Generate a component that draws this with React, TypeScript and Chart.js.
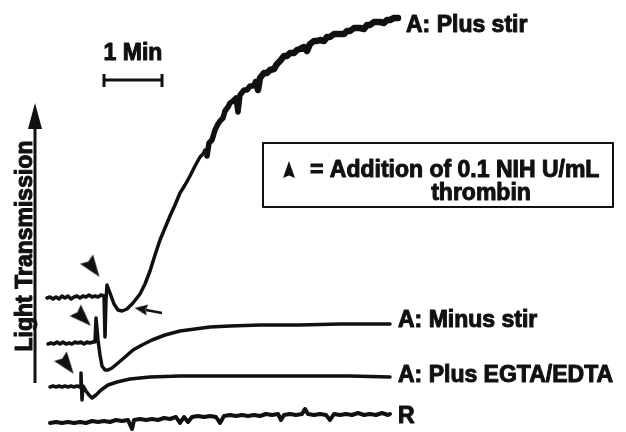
import React, { useEffect, useRef } from "react";
import { Chart, registerables } from "chart.js";

Chart.register(...registerables);

// time in seconds (1 min scale bar = 60 s); light transmission in arbitrary units
const plusStirX = [47, 50, 53, 56, 59, 62, 65, 68, 71, 74, 77, 80, 83, 86, 89, 92, 95, 98, 101, 104, 105, 106, 107, 110, 114, 118, 122, 127, 133, 140, 145, 150, 155, 160, 165, 170, 175, 180, 185, 190, 195, 200, 203, 205, 207, 209, 212, 215, 218, 220, 223, 225, 228, 230, 233, 236, 238, 240, 244, 247, 250, 253, 256, 258, 260, 264, 267, 270, 274, 277, 280, 284, 287, 290, 294, 297, 300, 304, 307, 310, 314, 317, 320, 324, 327, 330, 334, 337, 340, 344, 347, 350, 354, 357, 360, 364, 367, 370, 374, 377, 380, 384, 387, 390, 394, 398];
const plusStirT = [134, 135, 133, 135, 133, 136, 134, 136, 133, 135, 136, 134, 136, 135, 137, 135, 136, 135, 137, 136, 95, 132, 147, 139, 128, 122, 121, 123, 129, 138, 148, 161, 177, 192, 204, 216, 227, 239, 247, 256, 266, 275, 278, 282, 276, 289, 292, 302, 308, 311, 314, 321, 325, 329, 331, 334, 320, 337, 342, 342, 346, 346, 350, 342, 354, 359, 359, 362, 363, 368, 371, 376, 376, 379, 379, 382, 383, 385, 381, 388, 391, 391, 392, 391, 395, 395, 398, 398, 398, 398, 401, 401, 404, 404, 404, 403, 407, 407, 410, 410, 410, 409, 412, 412, 414, 414];

const minusStirX = [48, 51, 54, 57, 60, 63, 66, 69, 72, 75, 78, 81, 84, 87, 90, 93, 95, 96, 98, 100, 102, 105, 108, 112, 118, 125, 133, 142, 152, 165, 180, 195, 210, 230, 260, 300, 340, 370, 390];
const minusStirT = [88, 89, 88, 90, 88, 90, 88, 89, 88, 90, 89, 90, 88, 90, 89, 90, 90, 114, 92, 77, 66, 62, 62, 64, 69, 75, 82, 87, 92, 97, 101, 103, 105, 106, 107, 107, 108, 108, 108];

const egtaX = [50, 53, 56, 59, 62, 65, 68, 71, 74, 77, 80, 81, 82, 83, 86, 89, 92, 96, 101, 108, 117, 130, 150, 180, 230, 300, 350, 390];
const egtaT = [45, 46, 45, 46, 45, 46, 45, 46, 45, 46, 45, 59, 32, 46, 41, 37, 34, 37, 42, 47, 50, 53, 55, 56, 56, 56, 56, 55];

const refX = [50, 56, 62, 68, 74, 80, 86, 92, 98, 104, 110, 116, 122, 128, 132, 134, 140, 146, 152, 158, 164, 170, 176, 180, 184, 188, 192, 198, 204, 210, 216, 220, 224, 230, 236, 242, 248, 254, 260, 266, 272, 278, 281, 284, 290, 296, 302, 305, 308, 314, 320, 326, 330, 334, 340, 346, 352, 358, 364, 370, 376, 382, 388, 390];
const refT = [9, 10, 9, 10, 9, 10, 9, 11, 10, 11, 10, 12, 11, 12, 3, 12, 13, 12, 13, 12, 14, 13, 15, 9, 15, 10, 15, 16, 15, 16, 15, 9, 16, 17, 16, 17, 16, 17, 16, 18, 17, 18, 12, 17, 18, 17, 18, 23, 18, 17, 18, 17, 12, 18, 17, 18, 17, 19, 17, 18, 17, 19, 17, 18];

const seriesLabels = ["A: Plus stir", "A: Minus stir", "A: Plus EGTA/EDTA", "R"];

// thrombin addition markers: [time, level, direction in degrees]
const markerX = [93, 83, 67];
const markerT = [164, 114, 67];
const markerDir = [144, 135, 143];

// small arrow pointing at the Plus stir trough
const pointerX = [162, 146];
const pointerT = [119, 122];

const legendText = ["= Addition of 0.1 NIH U/mL", "thrombin"];
const scaleBarText = "1 Min";
const axisTitle = "Light Transmission";

function makeArrowHead(w: number, h: number): HTMLCanvasElement {
  const c = document.createElement("canvas");
  c.width = w;
  c.height = h;
  const g = c.getContext("2d")!;
  g.fillStyle = "#111";
  g.beginPath();
  g.moveTo(w / 2, 0);
  g.lineTo(w, h);
  g.lineTo(w / 2, h * 0.86);
  g.lineTo(0, h);
  g.closePath();
  g.fill();
  return c;
}

const FONT = '700 23px "Liberation Sans", Arial, Helvetica, sans-serif';
const INK = "#111";

export default function App() {
  const ref = useRef<HTMLCanvasElement | null>(null);

  useEffect(() => {
    if (!ref.current) return;
    const bigHead = makeArrowHead(16, 22);
    const smallHead = makeArrowHead(11, 13);
    const keyHead = makeArrowHead(12, 17);

    const toPts = (xs: number[], ys: number[]) => xs.map((x, i) => ({ x, y: ys[i] }));
    const trace = (xs: number[], ys: number[], thick = 3.5) => ({
      data: toPts(xs, ys),
      borderColor: INK,
      borderWidth: thick,
      pointRadius: 0,
      tension: 0,
      fill: false,
      borderJoinStyle: "round" as const,
      borderCapStyle: "round" as const,
    });

    const annot = {
      id: "annot",
      afterDatasetsDraw(chart: any) {
        const c = chart.ctx as CanvasRenderingContext2D;
        const sx = chart.scales.x;
        const sy = chart.scales.y;
        const X = (v: number) => sx.getPixelForValue(v);
        const Y = (v: number) => sy.getPixelForValue(v);
        const text = (s: string, x: number, y: number) => {
          c.fillText(s, x, y);
          c.strokeText(s, x, y);
        };
        c.save();
        c.fillStyle = INK;
        c.strokeStyle = INK;
        c.font = FONT;
        c.lineJoin = "round";
        c.textBaseline = "alphabetic";

        c.lineWidth = 1;
        // series labels at the end of each trace
        const ends = [
          [plusStirX, plusStirT, 14],
          [minusStirX, minusStirT, 3],
          [egtaX, egtaT, 5],
          [refX, refT, 9],
        ] as [number[], number[], number][];
        ends.forEach(([xs, ys, dy], i) => {
          const px = X(xs[xs.length - 1]) + 8;
          const py = Y(ys[ys.length - 1]) + dy;
          text(seriesLabels[i], px, py);
        });

        // scale bar: 1 minute = 60 s
        const sb0 = X(103), sb1 = X(103 + 60), sbY = Y(352);
        c.textAlign = "center";
        text(scaleBarText, (sb0 + sb1) / 2, Y(372));
        c.lineWidth = 3;
        c.beginPath();
        c.moveTo(sb0, sbY);
        c.lineTo(sb1, sbY);
        c.moveTo(sb0 + 1, sbY - 6);
        c.lineTo(sb0 + 1, sbY + 7);
        c.moveTo(sb1 - 1, sbY - 6);
        c.lineTo(sb1 - 1, sbY + 7);
        c.stroke();

        // y axis arrow
        const ax = X(35);
        c.lineWidth = 3;
        c.beginPath();
        c.moveTo(ax, Y(49));
        c.lineTo(ax, Y(306));
        c.stroke();
        c.beginPath();
        c.moveTo(ax, Y(329));
        c.lineTo(ax + 7, Y(303));
        c.lineTo(ax - 7, Y(303));
        c.closePath();
        c.fill();

        // axis title
        c.lineWidth = 1;
        c.save();
        c.translate(X(32), Y(186));
        c.rotate(-Math.PI / 2);
        c.textAlign = "center";
        text(axisTitle, 0, 0);
        c.restore();

        // key box
        const bl = X(263), br = X(613), bt = Y(289), bb = Y(225);
        c.textAlign = "left";
        text(legendText[0], X(310), Y(255));
        c.textAlign = "center";
        text(legendText[1], X(481), Y(232));
        c.lineWidth = 2;
        c.strokeRect(bl, bt, br - bl, bb - bt);
        c.drawImage(keyHead, X(289) - 6, Y(262) - 9);

        c.restore();
      },
    };

    const chart = new Chart(ref.current, {
      type: "line",
      data: {
        datasets: [
          {
            ...trace(plusStirX, plusStirT, 3.5),
            segment: {
              borderWidth: (ctx: any) => (ctx.p0.parsed.x > 255 ? 6.5 : ctx.p0.parsed.x > 205 ? 5.5 : 3.5),
            },
          } as any,
          trace(minusStirX, minusStirT, 3.5),
          trace(egtaX, egtaT, 3.5),
          trace(refX, refT, 4),
          {
            type: "scatter",
            data: toPts(markerX, markerT),
            pointStyle: bigHead,
            rotation: markerDir,
            pointRadius: 10,
            showLine: false,
          } as any,
          {
            data: toPts(pointerX, pointerT),
            borderColor: INK,
            borderWidth: 2.5,
            pointRadius: 0,
          },
          {
            type: "scatter",
            data: [{ x: 141, y: 123 }],
            pointStyle: smallHead,
            rotation: 279,
            pointRadius: 6,
            showLine: false,
          } as any,
        ],
      },
      options: {
        animation: false,
        responsive: false,
        events: [],
        layout: { padding: 0, autoPadding: false },
        scales: {
          x: { type: "linear", min: 0, max: 626, display: false },
          y: { type: "linear", min: 0, max: 432, display: false },
        },
        plugins: {
          legend: { display: false },
          tooltip: { enabled: false },
        },
      },
      plugins: [annot],
    });
    return () => chart.destroy();
  }, []);

  return (
    <div style={{ position: "absolute", left: 0, top: 0, width: 626, height: 432, background: "#fff" }}>
      <canvas ref={ref} width={626} height={432} style={{ display: "block" }} />
    </div>
  );
}
